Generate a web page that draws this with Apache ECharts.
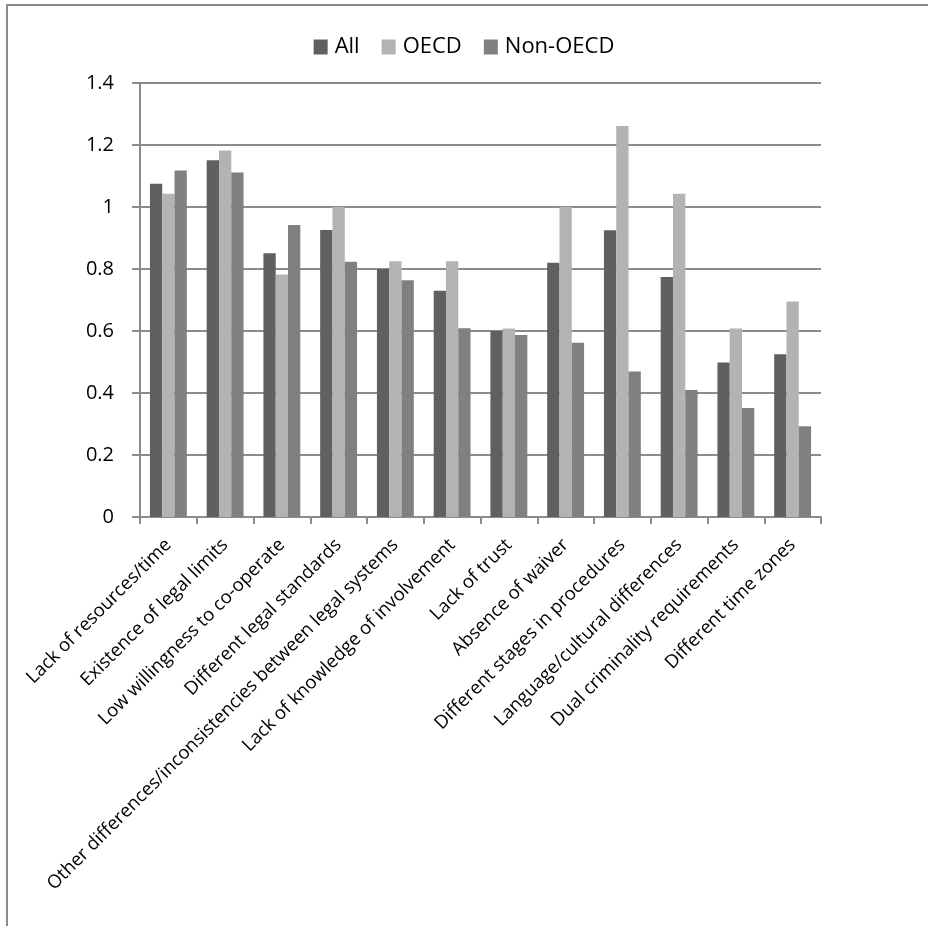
<!DOCTYPE html>
<html>
<head>
<meta charset="utf-8">
<script src="https://cdn.jsdelivr.net/npm/echarts@6/dist/echarts.min.js"></script>
<style>
  html, body { margin: 0; padding: 0; background: #fff; }
  #chart { width: 928px; height: 926px; }
</style>
</head>
<body>
<div id="chart"></div>
<script>
// Obstacles to cooperation, average scores by group
const categories = [
  'Lack of resources/time',
  'Existence of legal limits',
  'Low willingness to co-operate',
  'Different legal standards',
  'Other differences/inconsistencies between legal systems',
  'Lack of knowledge of involvement',
  'Lack of trust',
  'Absence of waiver',
  'Different stages in procedures',
  'Language/cultural differences',
  'Dual criminality requirements',
  'Different time zones'
];
const seriesNames = ['All', 'OECD', 'Non-OECD'];
const allValues     = [1.075, 1.151, 0.851, 0.926, 0.800, 0.730, 0.600, 0.820, 0.925, 0.774, 0.498, 0.525];
const oecdValues    = [1.043, 1.182, 0.782, 1.000, 0.825, 0.825, 0.608, 1.000, 1.261, 1.043, 0.608, 0.695];
const nonOecdValues = [1.118, 1.111, 0.942, 0.823, 0.764, 0.609, 0.587, 0.562, 0.469, 0.410, 0.352, 0.293];
const yTicks = [0, 0.2, 0.4, 0.6, 0.8, 1, 1.2, 1.4];

const FONT = 'Open Sans';
const lineGray = '#8c8c8c';
const colors = ['#606060', '#b3b3b3', '#808080'];

const chart = echarts.init(document.getElementById('chart'), null, { renderer: 'canvas' });

const valuesBySeries = [allValues, oecdValues, nonOecdValues];

chart.setOption({
  animation: false,
  backgroundColor: '#ffffff',
  textStyle: { fontFamily: FONT },
  color: colors,
  graphic: [{
    type: 'polyline',
    silent: true,
    shape: { points: [[7, 930], [7, 5], [930, 5]] },
    style: { stroke: lineGray, lineWidth: 2, fill: null }
  }],
  legend: {
    top: 31,
    left: 'center',
    itemWidth: 14,
    itemHeight: 15,
    itemGap: 22,
    icon: 'rect',
    textStyle: { fontFamily: FONT, fontSize: 22, color: '#000', padding: [0, 0, 0, 2] },
    data: seriesNames
  },
  grid: { left: 140, right: 107, top: 83, bottom: 409, containLabel: false },
  xAxis: {
    type: 'category',
    data: categories,
    axisLine: { show: true, lineStyle: { color: lineGray, width: 2 } },
    axisTick: { show: true, alignWithLabel: false, length: 7, lineStyle: { color: lineGray, width: 2 } },
    axisLabel: {
      interval: 0,
      rotate: 45,
      margin: 25,
      fontFamily: FONT,
      fontSize: 18.5,
      color: '#000'
    }
  },
  yAxis: {
    type: 'value',
    min: 0,
    max: 1.4,
    interval: 0.2,
    axisLine: { show: true, lineStyle: { color: lineGray, width: 2 } },
    axisTick: { show: true, length: 8, lineStyle: { color: lineGray, width: 2 } },
    splitLine: { show: true, lineStyle: { color: lineGray, width: 2 } },
    axisLabel: {
      margin: 26,
      fontFamily: FONT,
      fontSize: 20,
      color: '#000',
      formatter: v => {
        const t = yTicks.find(x => Math.abs(x - v) < 1e-9);
        return String(t !== undefined ? t : v);
      }
    }
  },
  series: seriesNames.map((name, i) => ({
    name,
    type: 'bar',
    data: valuesBySeries[i],
    barGap: '0%',
    barCategoryGap: '35%',
    itemStyle: { color: colors[i] }
  }))
});
</script>
</body>
</html>
